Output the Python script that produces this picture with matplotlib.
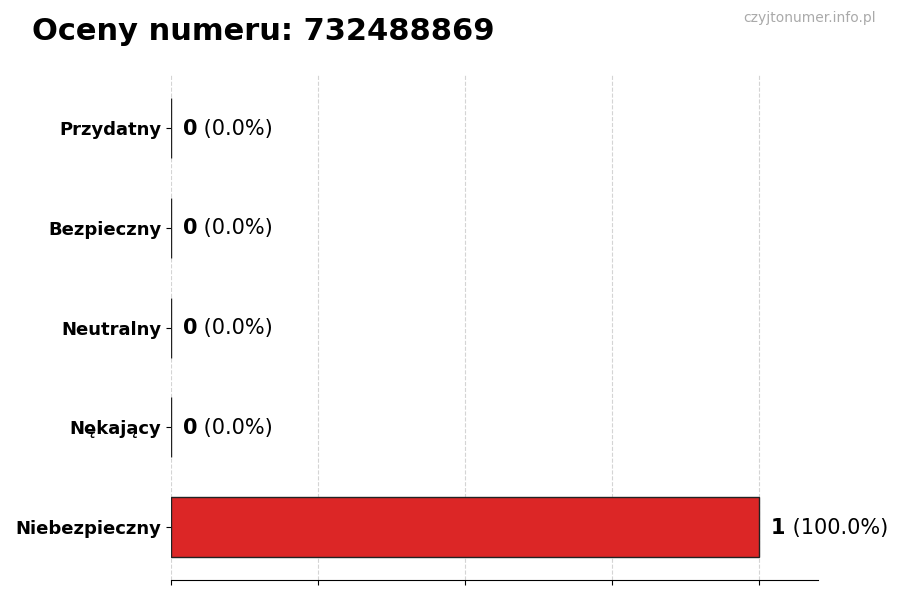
import matplotlib.pyplot as plt

categories = ['Niebezpieczny', 'Nękający', 'Neutralny', 'Bezpieczny', 'Przydatny']
counts = [1, 0, 0, 0, 0]
percents = [100.0, 0.0, 0.0, 0.0, 0.0]
colors = ['#dc2626', '#f97316', '#9ca3af', '#22c55e', '#16a34a']
title = 'Oceny numeru: 732488869'

fig = plt.figure(figsize=(9, 6), dpi=100)
ax = fig.add_axes([0.19, 0.033, 0.719, 0.842])

ax.barh(categories, counts, height=0.6, color=colors, edgecolor='#222222', linewidth=1)

for i, (c, p) in enumerate(zip(counts, percents)):
    t = ax.annotate(f'{c}', (c, i), xytext=(8.5, -0.5), textcoords='offset points',
                    va='center', ha='left', fontsize=15, fontweight='bold')
    ax.annotate(f' ({p:.1f}%)', xycoords=t, xy=(1, 0.5), va='center', ha='left',
                fontsize=15)

ax.set_xlim(0, 1.1)
ax.set_xticks([0, 0.25, 0.5, 0.75, 1.0])
ax.set_xticklabels([])
ax.tick_params(axis='y', labelsize=13)
for lab in ax.get_yticklabels():
    lab.set_fontweight('bold')
ax.grid(axis='x', linestyle='--', color='#d4d4d4', linewidth=0.8)
ax.set_axisbelow(True)
for s in ['top', 'right', 'left']:
    ax.spines[s].set_visible(False)

fig.text(0.036, 0.948, title, fontsize=22, fontweight='bold', ha='left', va='center')
fig.text(0.973, 0.97, 'czyjtonumer.info.pl', fontsize=10, color='#aaaaaa', ha='right', va='center')

fig.savefig('out.png', dpi=100)
